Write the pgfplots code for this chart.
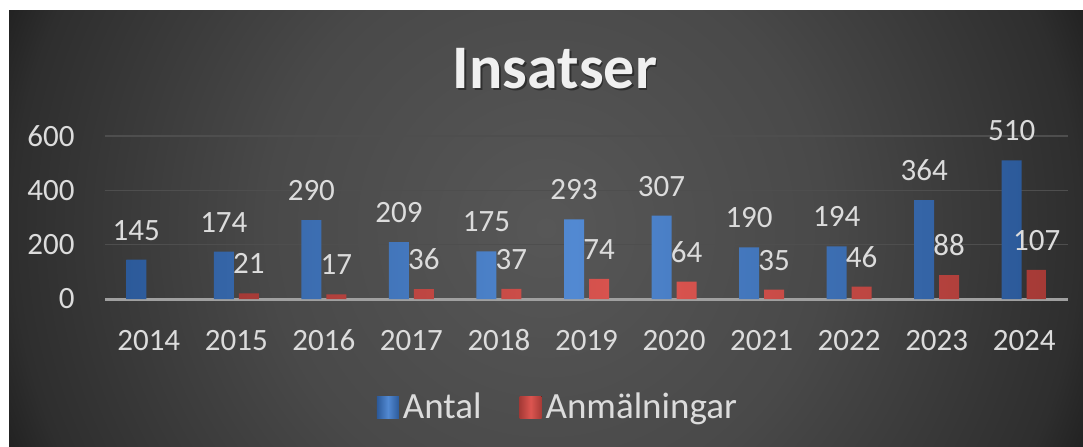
\documentclass[border=0pt]{standalone}
\usepackage{pgfplots}
\pgfplotsset{compat=1.18}
\usepackage{fontspec}
\setmainfont{Carlito}
\definecolor{bgA}{HTML}{575757}
\definecolor{bgB}{HTML}{494949}
\definecolor{bgC}{HTML}{2E2E2E}
\definecolor{bgD}{HTML}{222222}
\definecolor{gridc}{HTML}{4E4E4E}
\definecolor{zeroc}{HTML}{A0A0A0}
\definecolor{txtc}{HTML}{DCDCDC}
\definecolor{blueM}{HTML}{5289D2}
\definecolor{blueD}{HTML}{2C5A9A}
\definecolor{redM}{HTML}{DC5550}
\definecolor{redD}{HTML}{A53A36}
\pgfdeclareradialshading{bgshade}{\pgfpoint{0bp}{0bp}}{color(0bp)=(bgA); color(12bp)=(bgB); color(23bp)=(bgC); color(25bp)=(bgD); color(50bp)=(bgD)}
\begin{document}
\begin{tikzpicture}
\fill[white] (0pt,0pt) rectangle (541.5pt,-223pt);
\begin{scope}
\clip (4.5pt,-5pt) rectangle (541.5pt,-223pt);
\shade[shading=bgshade] (273pt,-114pt) circle (290pt);
\end{scope}
\node[text=black, opacity=0.4] at (278.3pt,-35.3pt) {\fontsize{31}{36}\selectfont\bfseries Insatser};
\node[text=white!94!black] at (277.5pt,-34.5pt) {\fontsize{31}{36}\selectfont\bfseries Insatser};
\begin{axis}[
  at={(52.5pt,-149.5pt)}, anchor=south west,
  scale only axis, width=481.5pt, height=81.5pt,
  ymin=0, ymax=600, xmin=-0.5, xmax=10.5,
  ytick={0,200,400,600},
  xtick={0,...,10},
  xticklabels={2014,2015,2016,2017,2018,2019,2020,2021,2022,2023,2024},
  ymajorgrids, grid style={color=gridc, line width=0.7pt},
  extra y ticks={0}, extra y tick labels={},
  extra y tick style={grid style={color=zeroc, line width=1.5pt}},
  axis line style={draw=none},
  major tick length=0pt,
  /pgf/number format/assume math mode=true,
  tick label style={font=\fontsize{15.5}{18}\selectfont, text=txtc},
  yticklabel style={inner xsep=0pt, xshift=-15pt},
  xticklabel style={anchor=base, yshift=-25.5pt},
  ybar, bar width=10pt, clip=false,
  nodes near coords,
  every node near coord/.append style={font=\fontsize{15.5}{18}\selectfont, text=txtc, anchor=base, yshift=9.75pt},
  legend columns=2,
  legend style={at={(0.4714,-0.6626)}, anchor=center, draw=none, fill=none,
     font=\fontsize{18.5}{21}\selectfont, text=txtc,
     /tikz/every even column/.append style={column sep=17pt}},
  legend image code/.code={\fill[#1] (-3pt,-5.5pt) rectangle (8pt,5.5pt);},
]
\addplot[bar shift=-6.25pt, draw=none, left color=blueD, right color=blueD, middle color=blueM]
 coordinates {(0,145) (1,174) (2,290) (3,209) (4,175) (5,293) (6,307) (7,190) (8,194) (9,364) (10,510)};
\addplot[bar shift=6.25pt, draw=none, left color=redD, right color=redD, middle color=redM]
 coordinates {(1,21) (2,17) (3,36) (4,37) (5,74) (6,64) (7,35) (8,46) (9,88) (10,107)};
\legend{Antal,Anmälningar}
\end{axis}
\end{tikzpicture}
\end{document}
